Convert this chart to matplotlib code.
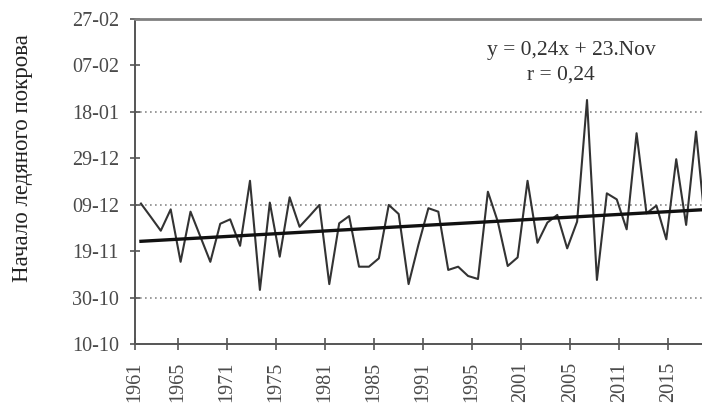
import matplotlib
matplotlib.use("Agg")
import matplotlib.pyplot as plt
import numpy as np

# ---- data ----
years = list(range(1961, 2019))
# ice-cover onset, days after 10 October
onset_days = [60.5, 54.7, 48.8, 58.0, 35.4, 57.0, 46.2, 35.4, 51.8, 53.7,
              42.3, 70.3, 23.3, 60.9, 37.6, 63.2, 50.5, 55.1, 59.9, 25.8,
              52.0, 55.1, 33.3, 33.3, 36.9, 59.9, 56.0, 25.8, 42.9, 58.5,
              57.0, 31.9, 33.3, 29.3, 28.0, 65.6, 52.7, 33.6, 37.3, 70.3,
              43.6, 52.3, 55.6, 41.2, 52.7, 105.1, 27.6, 64.9, 62.3, 49.4,
              90.8, 56.3, 59.6, 45.1, 79.6, 51.3, 91.5, 48.0]
trend_slope = 0.24       # days per year
trend_intercept = 44.0   # 23 Nov = 44 days after 10 Oct
y_tick_values = [0, 20, 40, 60, 80, 100, 120, 140]
y_tick_labels = ['10-10', '30-10', '19-11', '09-12', '29-12', '18-01', '07-02', '27-02']
grid_values = [20, 60, 100]
x_tick_labels = ['1961', '1965', '1971', '1975', '1981', '1985', '1991',
                 '1995', '2001', '2005', '2011', '2015']
ylabel = 'Начало ледяного покрова'
eq_line = 'y = 0,24x + 23.Nov'
r_line = 'r = 0,24'

plt.rcParams['font.family'] = ['Liberation Serif', 'DejaVu Serif']

fig = plt.figure(figsize=(7.02, 4.05), dpi=100)
ax = fig.add_axes([135 / 702, 61 / 405, 1 - 135 / 702, 325 / 405])

x = np.array(years)
ax.plot(x, onset_days, color='#333333', lw=1.5, zorder=3)

idx = np.arange(1, len(years) + 1)
ax.plot(x, trend_slope * idx + trend_intercept, color='#111111', lw=2.4, zorder=4)

for g in grid_values:
    ax.axhline(g, color='#8a8a8a', lw=1.2, ls=(0, (1, 2.0)), zorder=1)

ax.set_xlim(1960.4, 2017.6)
ax.set_ylim(0, 140)

ax.set_yticks(y_tick_values)
ax.set_yticklabels(y_tick_labels, fontsize=14.5, color='#4a4a4a')

tick_pos = [1960.4] + [1964.7 + 4.95 * k for k in range(len(x_tick_labels) - 1)]
ax.set_xticks(tick_pos)
ax.set_xticklabels(x_tick_labels, rotation=90, fontsize=14.5, color='#4a4a4a')

ax.tick_params(axis='y', direction='inout', length=7, width=1.2, color='#555555', pad=8)
ax.tick_params(axis='x', direction='inout', length=8, width=1.2, color='#555555', pad=9)

ax.spines['right'].set_visible(False)
ax.spines['left'].set_color('#555555')
ax.spines['left'].set_linewidth(1.4)
ax.spines['bottom'].set_color('#555555')
ax.spines['bottom'].set_linewidth(1.4)
ax.spines['top'].set_color('#808080')
ax.spines['top'].set_linewidth(2.0)

fig.text(23 / 702, 1 - 158 / 405, ylabel, rotation=90, ha='center', va='center',
         fontsize=16.5, color='#222222')

fig.text(571 / 702, 1 - 50 / 405, eq_line, ha='center', va='center',
         fontsize=15.5, color='#333333')
fig.text(561 / 702, 1 - 75 / 405, r_line, ha='center', va='center',
         fontsize=15.5, color='#333333')

fig.savefig('out.png', dpi=100)
